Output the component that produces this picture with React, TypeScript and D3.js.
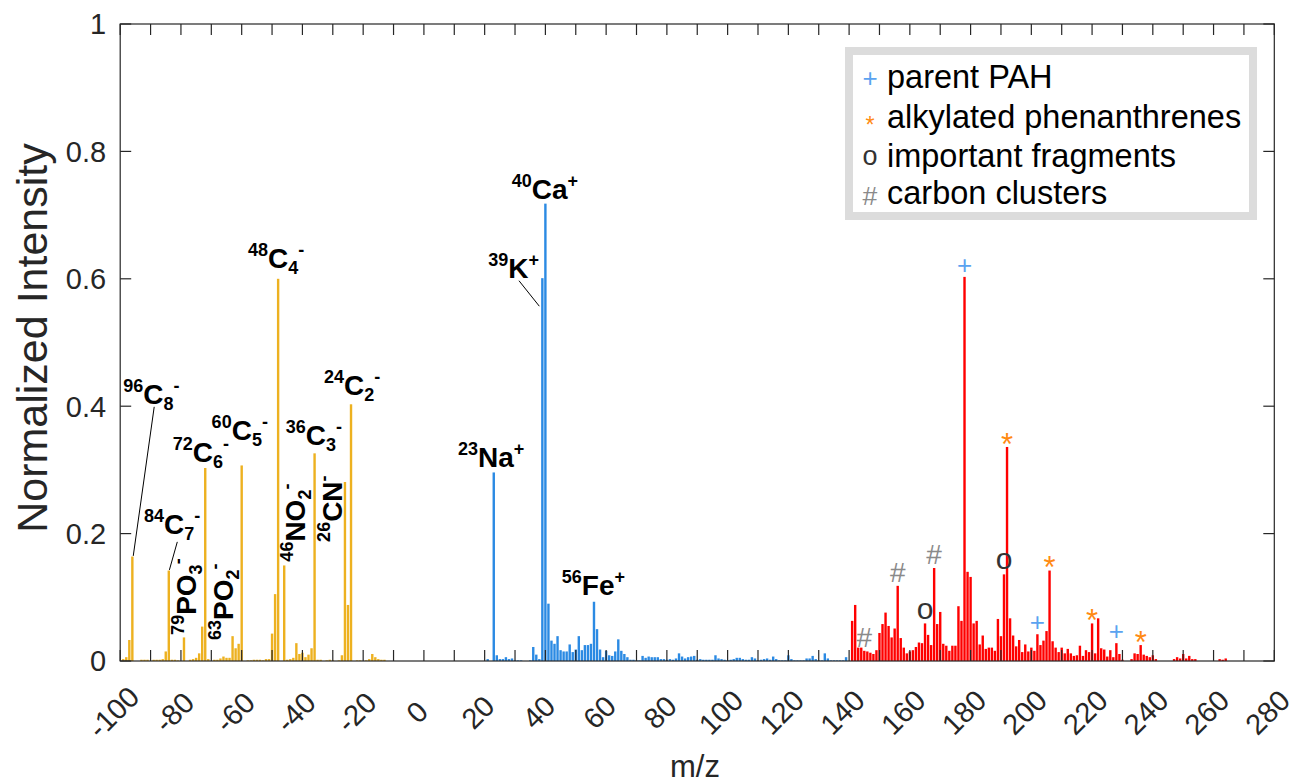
import React from "react";
import * as d3 from "d3";

// negative ions (plotted at -m/z)
const anionPeaks: [number, number][] = [
  [-99, 0.003], [-98, 0.006], [-97, 0.033], [-96, 0.164], [-93, 0.002], [-92, 0.002],
  [-91, 0.002], [-89, 0.002], [-88, 0.002], [-87, 0.002], [-86, 0.003], [-85, 0.015],
  [-84, 0.142], [-83, 0.002], [-82, 0.002], [-81, 0.001], [-79, 0.037], [-77, 0.002],
  [-76, 0.003], [-75, 0.005], [-74, 0.012], [-73, 0.054], [-72, 0.303], [-71, 0.003],
  [-69, 0.002], [-68, 0.002], [-67, 0.004], [-66, 0.007], [-65, 0.005], [-64, 0.005],
  [-63, 0.039], [-62, 0.02], [-61, 0.027], [-60, 0.307], [-58, 0.001], [-57, 0.001],
  [-56, 0.002], [-55, 0.002], [-54, 0.002], [-53, 0.001], [-52, 0.003], [-51, 0.003],
  [-50, 0.043], [-49, 0.105], [-48, 0.6], [-46, 0.15], [-45, 0.002], [-44, 0.003],
  [-43, 0.005], [-42, 0.028], [-41, 0.011], [-40, 0.013], [-39, 0.006], [-38, 0.01],
  [-37, 0.02], [-36, 0.326], [-35, 0.002], [-34, 0.002], [-32, 0.001], [-31, 0.002],
  [-30, 0.001], [-28, 0.001], [-27, 0.009], [-26, 0.281], [-25, 0.088], [-24, 0.403],
  [-22, 0.001], [-21, 0.001], [-19, 0.001], [-18, 0.003], [-17, 0.011], [-16, 0.006],
  [-15, 0.003], [-14, 0.002], [-13, 0.002],
];

// positive ions, inorganic part
const cationPeaks: [number, number][] = [
  [21, 0.003], [23, 0.296], [24, 0.009], [25, 0.003], [26, 0.003], [27, 0.006], [28, 0.003],
  [29, 0.004], [30, 0.001], [31, 0.001], [32, 0.001], [35, 0.001], [36, 0.022], [37, 0.01],
  [38, 0.003], [39, 0.601], [40, 0.718], [41, 0.09], [42, 0.032], [43, 0.027], [44, 0.039],
  [45, 0.017], [46, 0.015], [47, 0.015], [48, 0.026], [49, 0.014], [50, 0.018], [51, 0.039],
  [52, 0.017], [53, 0.025], [54, 0.025], [55, 0.027], [56, 0.093], [57, 0.05], [58, 0.018],
  [59, 0.006], [60, 0.016], [61, 0.009], [62, 0.008], [63, 0.015], [64, 0.034], [65, 0.016],
  [66, 0.011], [67, 0.006], [68, 0.002], [69, 0.002], [70, 0.001], [71, 0.001], [72, 0.008],
  [73, 0.005], [74, 0.007], [75, 0.006], [76, 0.006], [77, 0.006], [78, 0.003], [79, 0.003],
  [80, 0.002], [81, 0.003], [82, 0.002], [83, 0.004], [84, 0.012], [85, 0.007], [86, 0.004],
  [87, 0.006], [88, 0.007], [89, 0.008], [90, 0.002], [91, 0.003], [92, 0.002], [93, 0.002],
  [94, 0.002], [95, 0.002], [96, 0.009], [97, 0.004], [98, 0.003], [99, 0.002], [100, 0.001],
  [101, 0.002], [102, 0.003], [103, 0.005], [104, 0.005], [105, 0.003], [106, 0.002],
  [107, 0.002], [108, 0.006], [109, 0.004], [110, 0.001], [111, 0.002], [112, 0.003],
  [113, 0.004], [114, 0.002], [115, 0.007], [116, 0.003], [117, 0.001], [118, 0.001],
  [119, 0.001], [120, 0.009], [121, 0.003], [122, 0.001], [123, 0.001], [124, 0.001],
  [125, 0.001], [126, 0.004], [127, 0.004], [128, 0.008], [129, 0.003], [130, 0.001],
  [131, 0.001], [132, 0.012], [133, 0.004], [134, 0.001], [135, 0.001], [136, 0.001],
  [137, 0.001], [138, 0.001], [139, 0.006],
];

// positive ions, PAH part
const pahPeaks: [number, number][] = [
  [141, 0.063], [142, 0.088], [143, 0.021], [144, 0.021], [145, 0.016], [146, 0.015],
  [147, 0.013], [148, 0.011], [149, 0.017], [150, 0.044], [151, 0.058], [152, 0.076],
  [153, 0.055], [154, 0.037], [155, 0.051], [156, 0.118], [157, 0.036], [158, 0.021],
  [159, 0.012], [160, 0.015], [161, 0.017], [162, 0.022], [163, 0.029], [164, 0.028],
  [165, 0.059], [166, 0.041], [167, 0.025], [168, 0.146], [169, 0.058], [170, 0.077],
  [171, 0.027], [172, 0.024], [173, 0.016], [174, 0.024], [175, 0.024], [176, 0.086],
  [177, 0.063], [178, 0.603], [179, 0.14], [180, 0.132], [181, 0.059], [182, 0.063],
  [183, 0.026], [184, 0.04], [185, 0.019], [186, 0.021], [187, 0.021], [188, 0.016],
  [189, 0.066], [190, 0.039], [191, 0.136], [192, 0.336], [193, 0.067], [194, 0.04],
  [195, 0.023], [196, 0.033], [197, 0.014], [198, 0.026], [199, 0.015], [200, 0.021],
  [201, 0.016], [202, 0.042], [203, 0.025], [204, 0.032], [205, 0.047], [206, 0.142],
  [207, 0.031], [208, 0.021], [209, 0.014], [210, 0.021], [211, 0.012], [212, 0.019],
  [213, 0.012], [214, 0.008], [215, 0.009], [216, 0.024], [217, 0.008], [218, 0.017],
  [219, 0.014], [220, 0.059], [221, 0.012], [222, 0.067], [223, 0.02], [224, 0.018],
  [225, 0.007], [226, 0.017], [227, 0.006], [228, 0.028], [229, 0.011], [230, 0.002],
  [233, 0.003], [234, 0.012], [235, 0.011], [236, 0.025], [237, 0.01], [238, 0.008],
  [239, 0.006], [240, 0.009], [241, 0.003], [247, 0.003], [248, 0.006], [249, 0.004],
  [250, 0.011], [251, 0.004], [252, 0.008], [253, 0.003], [254, 0.003], [262, 0.003],
  [263, 0.002], [264, 0.004],
];

// marker peaks (m/z)
const parentPAH = [178, 202, 228];
const alkylated = [192, 206, 220, 236];
const fragments = [165, 191];
const clusters = [145, 156, 168];

// peak labels: [x m/z, y intensity, mass, element, subscript, charge, rotated]
const peakLabels: [number, number, string, string, string, string, boolean][] = [
  [-99, 0.404, "96", "C", "8", "-", false],
  [-92.2, 0.2, "84", "C", "7", "-", false],
  [-82.7, 0.313, "72", "C", "6", "-", false],
  [-69.9, 0.347, "60", "C", "5", "-", false],
  [-57.9, 0.617, "48", "C", "4", "-", false],
  [-45.5, 0.339, "36", "C", "3", "-", false],
  [-32.9, 0.418, "24", "C", "2", "-", false],
  [-75.0, 0.041, "79", "PO", "3", "-", true],
  [-62.8, 0.033, "63", "PO", "2", "-", true],
  [-39.2, 0.156, "46", "NO", "2", "-", true],
  [-27.1, 0.187, "26", "CN", "", "-", true],
  [28.9, 0.726, "40", "Ca", "", "+", false],
  [21.2, 0.601, "39", "K", "", "+", false],
  [11.2, 0.305, "23", "Na", "", "+", false],
  [45.4, 0.103, "56", "Fe", "", "+", false],
];

// leader lines: [x1, y1, x2, y2] in data units
const leaders: [number, number, number, number][] = [
  [-88.8, 0.399, -95.7, 0.165],
  [-81.2, 0.187, -83.8, 0.143],
  [31.3, 0.597, 38.0, 0.557],
];

const legendItems = ["parent PAH", "alkylated phenanthrenes", "important fragments", "carbon clusters"];
const xTicks = d3.range(-100, 281, 10);
const xTickLabels = d3.range(-100, 281, 20);
const yTicks = [0, 0.2, 0.4, 0.6, 0.8, 1];

const W = 1295, H = 783;
const x = d3.scaleLinear().domain([-100, 280]).range([120.2, 1274.3]);
const y = d3.scaleLinear().domain([0, 1]).range([661, 24]);

const axisColor = "#262626";
const font = "'Liberation Sans', Arial, sans-serif";
const barW = 2.4;

const markerStyle: Record<string, { glyph: string; color: string; lift: number; k: number; size: number }> = {
  plus: { glyph: "+", color: "#5ba3f0", lift: 11, k: 0.3, size: 26 },
  star: { glyph: "*", color: "#ff8a12", lift: 11, k: 0.6, size: 31 },
  circ: { glyph: "o", color: "#333333", lift: 13, k: 0.27, size: 30 },
  hash: { glyph: "#", color: "#8a8a8a", lift: 14, k: 0.36, size: 28 },
};

function Bars({ data, color }: { data: [number, number][]; color: string }) {
  return (
    <g fill={color}>
      {data.map(([m, v]) => (
        <rect key={m} x={x(m) - barW / 2} y={y(v)} width={barW} height={y(0) - y(v)} />
      ))}
    </g>
  );
}

function Marker({ type, cx, cy, scale = 1 }: { type: string; cx: number; cy: number; scale?: number }) {
  const s = markerStyle[type];
  const fs = s.size * scale;
  return (
    <text x={cx} y={cy + s.k * fs} textAnchor="middle" fontSize={fs} fill={s.color} fontFamily={font}>
      {s.glyph}
    </text>
  );
}

function PeakLabel({ d }: { d: [number, number, string, string, string, string, boolean] }) {
  const [mx, my, mass, el, sub, charge, rot] = d;
  const px = x(mx), py = y(my);
  const t = rot ? `translate(${px},${py}) rotate(-90)` : `translate(${px},${py})`;
  return (
    <text transform={t} fontFamily={font} fontWeight="bold" fill="#000">
      <tspan fontSize={18} dy={-12}>{mass}</tspan>
      <tspan fontSize={28} dy={12}>{el}</tspan>
      {sub ? <tspan fontSize={18} dy={6}>{sub}</tspan> : null}
      <tspan fontSize={18} dy={sub ? -18 : -12}>{charge}</tspan>
    </text>
  );
}

export default function App() {
  const lookup = new Map(pahPeaks);
  const markers: { type: string; m: number }[] = [
    ...parentPAH.map((m) => ({ type: "plus", m })),
    ...alkylated.map((m) => ({ type: "star", m })),
    ...fragments.map((m) => ({ type: "circ", m })),
    ...clusters.map((m) => ({ type: "hash", m })),
  ];
  const x0 = x(-100), x1 = x(280), y0 = y(0), y1 = y(1);
  const legendTypes = ["plus", "star", "circ", "hash"];
  const legendScale = [1, 0.75, 0.9, 0.95];

  return (
    <div style={{ position: "absolute", left: 0, top: 0, width: W, height: H, background: "#fff" }}>
      <svg width={W} height={H} viewBox={`0 0 ${W} ${H}`}>
        <rect width={W} height={H} fill="#fff" />

        <Bars data={anionPeaks} color="#EDB120" />
        <Bars data={cationPeaks} color="#2b8ae3" />
        <Bars data={pahPeaks} color="#ff0000" />

        {/* frame + inward ticks */}
        <g stroke={axisColor} strokeWidth={1.2} fill="none">
          <rect x={x0} y={y1} width={x1 - x0} height={y0 - y1} />
          {xTicks.map((t) => (
            <g key={t}>
              <line x1={x(t)} x2={x(t)} y1={y0} y2={y0 - 11} />
              <line x1={x(t)} x2={x(t)} y1={y1} y2={y1 + 11} />
            </g>
          ))}
          {yTicks.map((t) => (
            <g key={t}>
              <line x1={x0} x2={x0 + 11} y1={y(t)} y2={y(t)} />
              <line x1={x1} x2={x1 - 11} y1={y(t)} y2={y(t)} />
            </g>
          ))}
        </g>

        {/* tick labels */}
        <g fontFamily={font} fill={axisColor}>
          {yTicks.map((t) => (
            <text key={t} x={x0 - 14} y={y(t)} dy="0.36em" textAnchor="end" fontSize={29}>
              {d3.format("~g")(t)}
            </text>
          ))}
          {xTickLabels.map((t) => (
            <text
              key={t}
              transform={`translate(${x(t) - 7},${y0 + 51}) rotate(-45)`}
              dy="0.36em"
              textAnchor="middle"
              fontSize={29}
            >
              {t}
            </text>
          ))}
        </g>

        <text
          transform={`translate(${47},${338}) rotate(-90)`}
          textAnchor="middle"
          fontFamily={font}
          fontSize={43}
          fill={axisColor}
        >
          Normalized Intensity
        </text>
        <text x={695} y={777} textAnchor="middle" fontFamily={font} fontSize={31} fill={axisColor}>
          m/z
        </text>

        {/* annotations */}
        <g stroke="#000" strokeWidth={1}>
          {leaders.map(([a, b, c, d], i) => (
            <line key={i} x1={x(a)} y1={y(b)} x2={x(c)} y2={y(d)} />
          ))}
        </g>
        {peakLabels.map((d, i) => (
          <PeakLabel key={i} d={d} />
        ))}
        {markers.map((mk, i) => (
          <Marker
            key={i}
            type={mk.type}
            cx={x(mk.m)}
            cy={y(lookup.get(mk.m) ?? 0) - markerStyle[mk.type].lift}
          />
        ))}

        {/* legend */}
        <rect x={849} y={51} width={404} height={165} fill="#fff" stroke="#dcdcdc" strokeWidth={8} />
        {legendItems.map((name, i) => {
          const cy = [76, 116, 155, 192][i];
          return (
            <g key={name}>
              <Marker type={legendTypes[i]} cx={870} cy={cy + 3} scale={legendScale[i]} />
              <text x={887} y={cy} dy="0.36em" fontFamily={font} fontSize={32.5} fill="#000">
                {name}
              </text>
            </g>
          );
        })}
      </svg>
    </div>
  );
}
